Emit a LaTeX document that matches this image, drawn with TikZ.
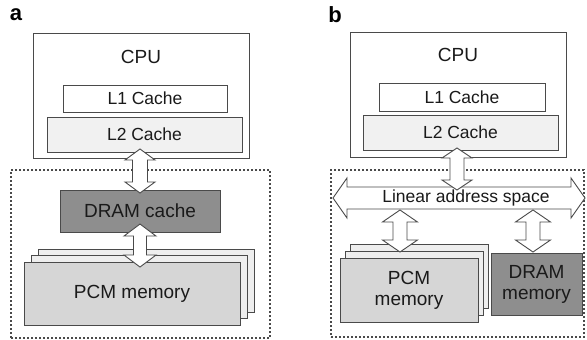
\documentclass[tikz,border=0pt]{standalone}
\usepackage{fontspec}
\setmainfont{Liberation Sans}
\definecolor{edge}{HTML}{4A4A4A}
\definecolor{ink}{HTML}{1A1A1A}
\definecolor{dram}{HTML}{8E8E8E}
\definecolor{pcm}{HTML}{D6D6D6}
\definecolor{pcmback}{HTML}{EEEEEE}
\definecolor{ltwo}{HTML}{F1F1F1}
\tikzset{
  box/.style={draw=edge, line width=0.9pt, rectangle, inner sep=0pt, text=ink},
  region/.style={draw=edge, line width=1.1pt, dash pattern=on 2pt off 2pt, rectangle, inner sep=0pt},
  big/.style={font=\fontsize{19}{21}\selectfont, text=ink, align=center},
  small/.style={font=\fontsize{17.5}{20}\selectfont, text=ink},
  panel/.style={font=\fontsize{22}{24}\selectfont\bfseries, text=black},
  blockarrow/.style={draw=edge, fill=white, line width=0.9pt, line join=miter}
}
% vertical double block arrow: cx, ytop, ybot, shaft half, head half, head length
\newcommand\vdarrow[6]{%
 \draw[blockarrow] (#1,#2) -- ({#1+#5},{#2+#6}) -- ({#1+#4},{#2+#6}) -- ({#1+#4},{#3-#6})
   -- ({#1+#5},{#3-#6}) -- (#1,#3) -- ({#1-#5},{#3-#6}) -- ({#1-#4},{#3-#6})
   -- ({#1-#4},{#2+#6}) -- ({#1-#5},{#2+#6}) -- cycle;}
% horizontal double block arrow: cy, xleft, xright, shaft half, head half, head length
\newcommand\hdarrow[6]{%
 \draw[blockarrow] (#2,#1) -- ({#2+#6},{#1-#5}) -- ({#2+#6},{#1-#4}) -- ({#3-#6},{#1-#4})
   -- ({#3-#6},{#1-#5}) -- (#3,#1) -- ({#3-#6},{#1+#5}) -- ({#3-#6},{#1+#4})
   -- ({#2+#6},{#1+#4}) -- ({#2+#6},{#1+#5}) -- cycle;}
\begin{document}
\begin{tikzpicture}[x=1pt,y=-1pt]
\useasboundingbox (0,0) rectangle (587,340);
% ---------- panel a ----------
\node[panel] (la) at (16,15) {a};
\node[box, minimum width=216, minimum height=125] (cpuA) at (141,95.5) {};
\node[big] (cpuAt) at (141,57) {CPU};
\node[box, fill=white, minimum width=164, minimum height=27, small] (l1A) at (145,98.5) {L1 Cache};
\node[box, fill=ltwo, minimum width=195, minimum height=35, small] (l2A) at (144.5,134.5) {L2 Cache};
\node[region, minimum width=259, minimum height=168] (regA) at (140.5,254) {};
\node[box, fill=dram, minimum width=160, minimum height=42, big] (dramA) at (140,211) {DRAM cache};
\node[box, fill=pcmback, minimum width=216, minimum height=63] (pcmA3) at (146.5,281) {};
\node[box, fill=pcmback, minimum width=216, minimum height=63] (pcmA2) at (139.5,287) {};
\node[box, fill=pcm, minimum width=216, minimum height=63, big] (pcmA) at (132,293.5) {PCM memory};
\vdarrow{140}{149}{193}{7.5}{15}{11}
\vdarrow{140}{224}{267}{6.5}{16}{12}
% ---------- panel b ----------
\node[panel] (lb) at (335,15) {b};
\node[box, minimum width=216, minimum height=125] (cpuB) at (458,94.5) {};
\node[big] (cpuBt) at (458,55) {CPU};
\node[box, fill=white, minimum width=166, minimum height=28, small] (l1B) at (462,97) {L1 Cache};
\node[box, fill=ltwo, minimum width=195, minimum height=35, small] (l2B) at (460.5,132.5) {L2 Cache};
\node[region, minimum width=253, minimum height=167] (regB) at (457.5,253.5) {};
\hdarrow{198}{333}{585}{11}{20}{14}
\node[small] (lint) at (466,198) {Linear address space};
\vdarrow{457}{148}{190}{7}{15}{10}
\node[box, fill=pcmback, minimum width=138, minimum height=64] (pcmB3) at (419.5,276.5) {};
\node[box, fill=pcmback, minimum width=138, minimum height=64] (pcmB2) at (414.5,283.5) {};
\node[box, fill=pcm, minimum width=138, minimum height=64, big] (pcmB) at (409,290) {PCM\\memory};
\node[box, fill=dram, minimum width=91, minimum height=62, big] (dramB) at (536.5,284) {DRAM\\memory};
\vdarrow{400}{210}{252}{7}{17.5}{12}
\vdarrow{533}{210}{252}{7}{17.5}{12}
\end{tikzpicture}
\end{document}
